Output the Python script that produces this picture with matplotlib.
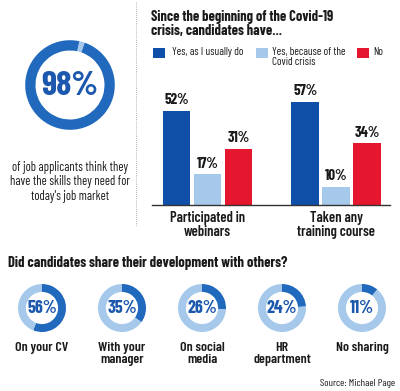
import matplotlib
matplotlib.use("Agg")
import matplotlib.pyplot as plt
from matplotlib.patches import Rectangle

plt.rcParams['font.family'] = ['Barlow Condensed', 'Roboto Condensed', 'Roboto', 'DejaVu Sans']

# data
top_share = 98
top_text = "of job applicants think they\nhave the skills they need for\ntoday's job market"

bar_title = "Since the beginning of the Covid-19\ncrisis, candidates have..."
bar_categories = ["Participated in\nwebinars", "Taken any\ntraining course"]
series_names = ["Yes, as I usually do", "Yes, because of the\nCovid crisis", "No"]
yes_usual = [52, 57]
yes_covid = [17, 10]
no_vals = [31, 34]

share_title = "Did candidates share their development with others?"
share_labels = ["On your CV", "With your\nmanager", "On social\nmedia", "HR\ndepartment", "No sharing"]
share_vals = [56, 35, 26, 24, 11]
source = "Source: Michael Page"

DARK = '#2169bd'
BAR_DARK = '#0f4fa8'
LIGHT = '#a6c8ea'
RED = '#e5172f'
TXT = '#1a1a1a'
NUM = '#1c58ad'

W, H = 400, 391
fig = plt.figure(figsize=(W / 100, H / 100), dpi=100)
bg = fig.add_axes([0, 0, 1, 1])
bg.set_xlim(0, W)
bg.set_ylim(H, 0)
bg.axis('off')


def donut_ax(cx, cy, r):
    return fig.add_axes([(cx - r) / W, (H - cy - r) / H, 2 * r / W, 2 * r / H])


# big donut
ax = donut_ax(70, 85, 56)
ax.pie([100 - top_share, top_share], colors=[LIGHT, DARK], startangle=78,
       counterclock=False, wedgeprops=dict(width=0.23, linewidth=0))
ax.text(0, -0.03, f"{top_share}%", ha='center', va='center', fontsize=25,
        fontweight='bold', color=NUM)
bg.text(70, 182, top_text, ha='center', va='center', fontsize=9,
        color=TXT, linespacing=1.15)

# dotted separator
bg.plot([136, 136], [2, 226], color='#999999', lw=0.6, ls=(0, (1, 1.5)))

# bar chart
bg.text(151, 24.5, bar_title, ha='left', va='center', fontsize=10.4,
        fontweight='bold', color=TXT, linespacing=1.0)
leg = [(153, series_names[0], BAR_DARK, 172), (256, series_names[1], LIGHT, 272),
       (357, series_names[2], RED, 373)]
for x0, name, c, tx in leg:
    bg.add_patch(Rectangle((x0, 48), 12, 10, color=c, lw=0))
    bg.text(tx, 47, name, ha='left', va='top', fontsize=8, color=TXT,
            linespacing=1.0)

bax = fig.add_axes([152 / W, (H - 205) / H, 238 / W, 120 / H])
step = 1.0
gx = [0, 4.15]
for i, (vals, c) in enumerate([(yes_usual, BAR_DARK), (yes_covid, LIGHT), (no_vals, RED)]):
    xs = [g + (i - 1) * step for g in gx]
    bax.bar(xs, vals, width=0.9, color=c, lw=0)
    for x, v in zip(xs, vals):
        bax.text(x, v + 2, f"{v}%", ha='center', va='bottom', fontsize=10.8,
                 fontweight='bold', color=TXT)
bax.set_xlim(-1.79, 5.89)
bax.set_ylim(0, 120 / 1.81)
bax.set_xticks(gx)
bax.set_xticklabels(bar_categories, fontsize=10.5, color=TXT, linespacing=1.0,
                    fontweight='semibold')
bax.tick_params(axis='x', length=0, pad=4)
bax.set_yticks([])
for s in ['top', 'left', 'right']:
    bax.spines[s].set_visible(False)
bax.spines['bottom'].set_color('#333333')
bax.spines['bottom'].set_linewidth(1.0)
bax.patch.set_alpha(0)

# bottom donuts
bg.text(8, 263, share_title, ha='left', va='center', fontsize=10.5,
        fontweight='bold', color=TXT)
for k, (lab, v) in enumerate(zip(share_labels, share_vals)):
    cx = 42 + 80 * k
    a = donut_ax(cx, 308, 30)
    a.pie([v, 100 - v], colors=[DARK, LIGHT], startangle=90, counterclock=False,
          wedgeprops=dict(width=0.33, linewidth=0))
    a.text(0, -0.03, f"{v}%", ha='center', va='center', fontsize=13,
           fontweight='bold', color=NUM)
    bg.text(cx, 342, lab, ha='center', va='top', fontsize=10, color=TXT,
            linespacing=1.0, fontweight='semibold')

bg.text(395, 383, source, ha='right', va='center', fontsize=7.5, color=TXT)

fig.savefig('out.png', dpi=100)
